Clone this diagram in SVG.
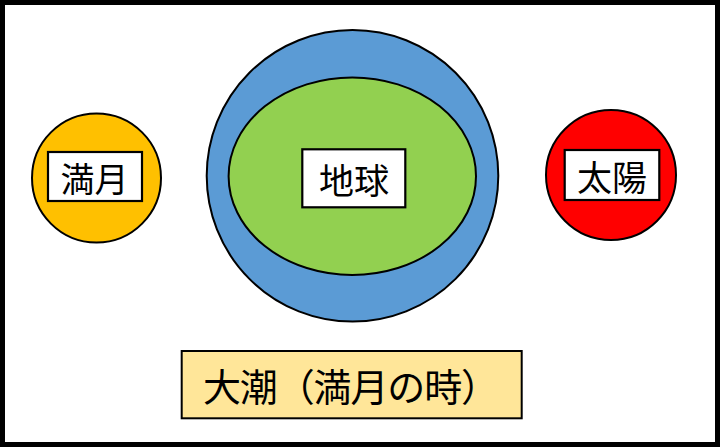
<svg xmlns="http://www.w3.org/2000/svg" width="720" height="447" viewBox="0 0 720 447">
<style>
.ol{stroke:#000;stroke-width:2}
.box{fill:#fff;stroke:#000;stroke-width:2.2}
.t{font-family:"Noto Sans CJK JP","Noto Sans CJK SC",sans-serif;fill:#000;text-anchor:middle;dominant-baseline:central}
</style>
<rect x="0" y="0" width="720" height="447" fill="#fff"/>
<rect x="2.5" y="2.5" width="715" height="442" fill="none" stroke="#000" stroke-width="5"/>
<g id="moon">
<circle class="ol" cx="96.5" cy="178" r="64.5" fill="#FFC000"/>
<rect class="box" x="48" y="152" width="94" height="49"/>
<text class="t" x="94.5" y="177.5" font-size="34">満月</text>
</g>
<g id="earth">
<circle class="ol" cx="352.5" cy="175.8" r="145.8" fill="#5B9BD5"/>
<ellipse class="ol" cx="352.3" cy="176.2" rx="123.7" ry="98.8" fill="#92D050"/>
<rect class="box" x="302.3" y="149.3" width="103" height="58"/>
<text class="t" x="354" y="178.5" font-size="35">地球</text>
</g>
<g id="sun">
<circle class="ol" cx="611" cy="175" r="65" fill="#F00"/>
<rect class="box" x="564.7" y="150" width="94.6" height="50"/>
<text class="t" x="612" y="175.5" font-size="35">太陽</text>
</g>
<g id="caption">
<rect x="181.7" y="351" width="340" height="67.3" fill="#FFE699" stroke="#000" stroke-width="2"/>
<text class="t" x="351" y="384.5" font-size="38" textLength="296" lengthAdjust="spacing">大潮（満月の時）</text>
</g>
<g id="connectors"></g>
</svg>
